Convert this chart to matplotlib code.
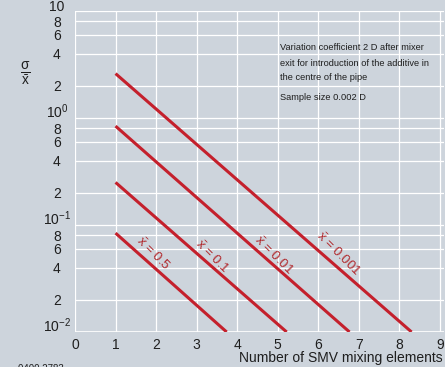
import numpy as np
import matplotlib
matplotlib.use("Agg")
from matplotlib import pyplot as plt

plt.rcParams["font.family"] = ["Liberation Sans", "DejaVu Sans"]
plt.rcParams["mathtext.fontset"] = "custom"
plt.rcParams["mathtext.rm"] = "Liberation Sans"
plt.rcParams["mathtext.it"] = "Liberation Sans:italic"
plt.rcParams["mathtext.default"] = "regular"

# ---------------------------------------------------------------------------
# Data
# ---------------------------------------------------------------------------
series_labels = [r"$\bar{x}$ = 0.5", r"$\bar{x}$ = 0.1", r"$\bar{x}$ = 0.01", r"$\bar{x}$ = 0.001"]
x_start = [1, 1, 1, 1]
cv_start = [0.084, 0.25, 0.84, 2.6]
x_end = [3.74, 5.22, 6.77, 8.3]
cv_end = [0.01, 0.01, 0.01, 0.01]
label_x = [1.92, 3.37, 4.88, 6.48]
label_cv = [0.054, 0.051, 0.052, 0.054]

x_ticks = [0, 1, 2, 3, 4, 5, 6, 7, 8, 9]
y_ticks = [0.01, 0.02, 0.04, 0.06, 0.08,
           0.1, 0.2, 0.4, 0.6, 0.8,
           1, 2, 4, 6, 8, 10]
y_tick_labels = [r"$10^{-2}$", "2", "4", "6", "8",
                 r"$10^{-1}$", "2", "4", "6", "8",
                 r"$10^{0}$", "2", "4", "6", "8",
                 "10"]

note_lines = ["Variation coefficient 2 D after mixer",
              "exit for introduction of the additive in",
              "the centre of the pipe"]
note_sample = "Sample size 0.002 D"

BG = "#cdd4dc"
RED = "#c4202c"
TXT = "#1e1e1e"

# ---------------------------------------------------------------------------
# Figure
# ---------------------------------------------------------------------------
fig = plt.figure(figsize=(4.45, 3.67), dpi=100, facecolor=BG)
ax = fig.add_axes([75 / 445, 35 / 367, 369 / 445, 321 / 367])
ax.set_facecolor(BG)
ax.set_yscale("log")
ax.set_xlim(0, 9.1)
ax.set_ylim(0.01, 10)

ax.set_xticks(x_ticks)
ax.set_xticklabels([str(v) for v in x_ticks])
ax.set_yticks(y_ticks)
ax.set_yticklabels(y_tick_labels)
ax.minorticks_off()
ax.tick_params(axis="both", length=0, labelsize=10, colors=TXT)
ax.tick_params(axis="x", pad=4)
ax.tick_params(axis="y", pad=13)
for lab in ax.get_yticklabels():
    lab.set_horizontalalignment("center")
    if lab.get_text().startswith("$10") or lab.get_text() == "10":
        # decade labels sit on their grid line
        lab.set_verticalalignment("baseline")

ax.grid(True, color="white", linewidth=0.9)
for s in ax.spines.values():
    s.set_visible(False)
ax.axvline(0, color="white", linewidth=1.2)
ax.axhline(0.01, color="white", linewidth=1.2)

for xs, ys, xe, ye in zip(x_start, cv_start, x_end, cv_end):
    ax.plot([xs, xe], [ys, ye], color=RED, linewidth=2.2, solid_capstyle="butt", zorder=3)

for lab, lx, ly in zip(series_labels, label_x, label_cv):
    ax.text(lx, ly, lab, color="#b0282c", fontsize=9.5, rotation=-45,
            ha="center", va="center", rotation_mode="anchor", zorder=4)

# annotation text
y0 = 1 - 48 / 367
for i, line in enumerate(note_lines):
    fig.text(280 / 445, y0 - i * 15 / 367, line, fontsize=6.7, color=TXT, va="center")
fig.text(280 / 445, 1 - 98 / 367, note_sample, fontsize=6.7, color=TXT, va="center")

# axis titles
fig.text(25 / 445, 1 - 74 / 367, r"$\frac{\sigma}{\bar{x}}$", fontsize=14,
         color=TXT, ha="center", va="center")
fig.text(443 / 445, 1 - 358 / 367, "Number of SMV mixing elements", fontsize=10,
         color=TXT, ha="right", va="center")
fig.text(18 / 445, 1 - 369 / 367, "0400 2783", fontsize=7, color=TXT, va="center")

fig.savefig("out.png", dpi=100, facecolor=BG)
